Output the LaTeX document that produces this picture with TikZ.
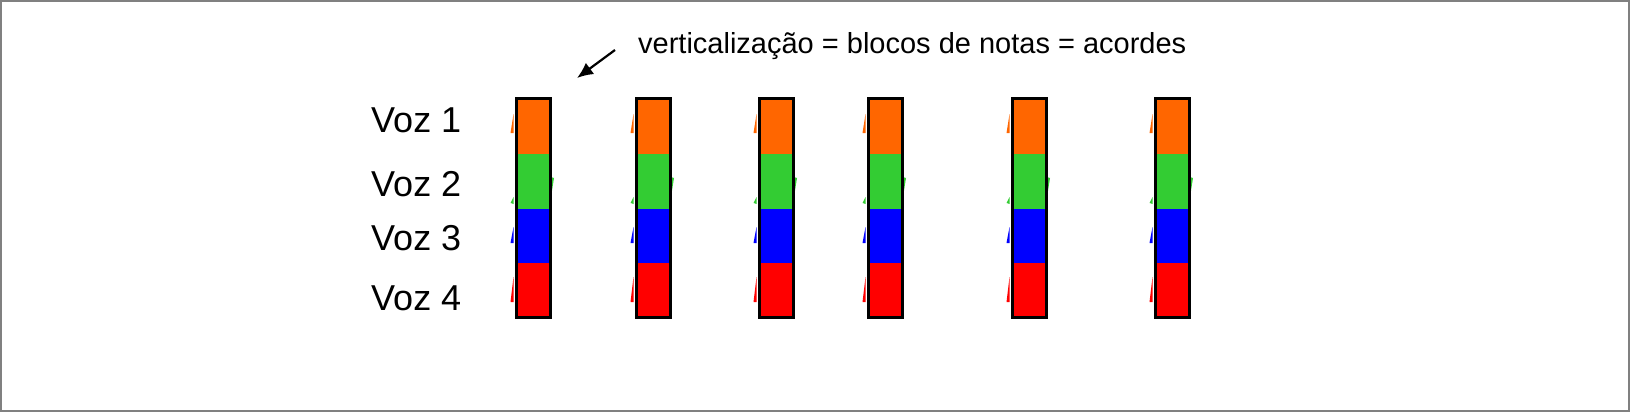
\documentclass[tikz,border=0pt]{standalone}
\usepackage{fontspec}
\setmainfont{Liberation Sans}
\usetikzlibrary{arrows.meta}
\definecolor{vorange}{RGB}{255,102,0}
\definecolor{vgreen}{RGB}{51,204,51}
\definecolor{vblue}{RGB}{0,0,255}
\definecolor{vred}{RGB}{255,0,0}
\definecolor{framegray}{RGB}{128,128,128}
\tikzset{
  vlabel/.style={font=\fontsize{36}{40}\selectfont, anchor=west, inner sep=0pt},
  note/.style={font=\fontsize{29}{34}\selectfont, anchor=west, inner sep=0pt},
  blockframe/.style={draw=black, line width=3pt},
}
\begin{document}
\begin{tikzpicture}[x=1pt,y=-1pt]
\useasboundingbox (0,0) rectangle (1630,412);
\draw[framegray, line width=2pt] (1,1) rectangle (1629,411);
\foreach \xl/\n in {515/a,635/b,758/c,867/d,1011/e,1154/f}{
  \begin{scope}[shift={(\xl,0)}]
    \fill[vorange] (-1.5,114) -- (-4.5,133) -- (-1.5,133) -- cycle;
    \fill[vgreen] (35.5,177) -- (39,178) -- (36,197) -- cycle;
    \fill[vgreen] (-4.5,203) -- (-1.5,197) -- (-1.5,204) -- cycle;
    \fill[vblue] (-1.5,227) -- (-4.5,243) -- (-1.5,243) -- cycle;
    \fill[vred] (-1.5,277) -- (-4.5,302) -- (-1.5,302) -- cycle;
    \fill[vorange] (0,97) rectangle (34,154);
    \fill[vgreen] (0,154) rectangle (34,209);
    \fill[vblue] (0,209) rectangle (34,263);
    \fill[vred] (0,263) rectangle (34,316);
  \end{scope}
  \node[blockframe, minimum width=34pt, minimum height=219pt, inner sep=0pt, anchor=north west] (col\n) at (\xl,97) {};
}
\node[vlabel] (v1) at (371,120) {Voz 1};
\node[vlabel] (v2) at (371,184) {Voz 2};
\node[vlabel] (v3) at (371,238) {Voz 3};
\node[vlabel] (v4) at (371,298) {Voz 4};
\node[note] (t) at (638,46) {verticalização = blocos de notas = acordes};
\coordinate (as) at (615,50);
\coordinate (ae) at (577,78);
\draw[line width=2.2pt, -{Latex[length=16pt,width=14pt]}] (as) -- (ae);
\end{tikzpicture}
\end{document}
